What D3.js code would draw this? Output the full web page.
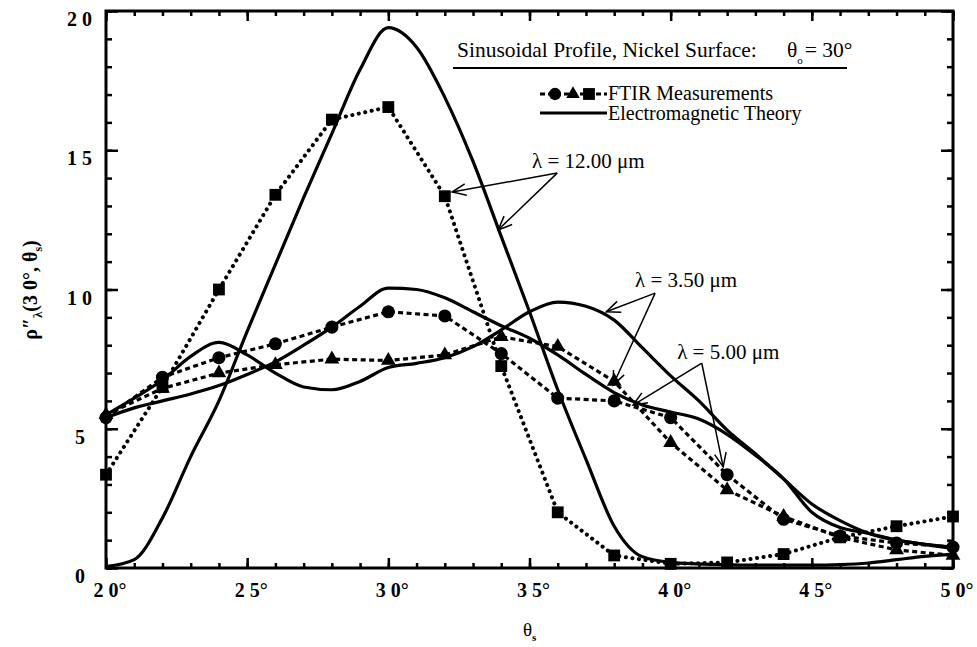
<!DOCTYPE html>
<html lang="en">
<head>
<meta charset="UTF-8">
<title>Sinusoidal Profile, Nickel Surface</title>
<style>
  body { margin: 0; background: #fff; }
  svg { display: block; font-family: 'Liberation Serif', 'Times New Roman', serif; }
  .frame { fill: none; stroke: #000; stroke-width: 3; }
  .ticks line { stroke: #000; stroke-width: 2.5; }
  .tick-label { font-weight: bold; font-size: 20px; }
  .theory { fill: none; stroke: #000; stroke-width: 3.2; }
  .meas-dash { fill: none; stroke: #000; stroke-width: 3.2; stroke-dasharray: 5, 3.5; }
  .meas-dot { fill: none; stroke: #000; stroke-width: 4; stroke-dasharray: 0.1, 6.5; stroke-linecap: round; }
  .note { font-size: 21px; }
  .legend { font-size: 20px; }
  .arrow { stroke: #000; stroke-width: 1.5; fill: none; }
</style>
</head>
<body>
<svg id="chart" width="977" height="647"></svg>
<script src="https://d3js.org/d3.v7.min.js"></script>
<script>
// measured points (FTIR), every 2 degrees
const measAngles = [20, 22, 24, 26, 28, 30, 32, 34, 36, 38, 40, 42, 44, 46, 48, 50];
const meas350 = [5.5, 6.45, 7.0, 7.3, 7.5, 7.45, 7.65, 8.3, 7.95, 6.7, 4.5, 2.8, 1.85, 1.1, 0.65, 0.45];   // triangles
const meas500 = [5.4, 6.85, 7.55, 8.05, 8.65, 9.2, 9.05, 7.7, 6.1, 6.0, 5.4, 3.35, 1.75, 1.15, 0.9, 0.75]; // circles
const meas1200 = [3.35, 6.5, 10.0, 13.4, 16.1, 16.55, 13.35, 7.25, 2.0, 0.45, 0.15, 0.2, 0.5, 1.1, 1.5, 1.85]; // squares

// electromagnetic theory, every degree
const theoryAngles = [20, 21, 22, 23, 24, 25, 26, 27, 28, 29, 30, 31, 32, 33, 34, 35,
                      36, 37, 38, 39, 40, 41, 42, 43, 44, 45, 46, 47, 48, 49, 50];
const theory350 = [5.5, 6.1, 6.75, 7.6, 8.1, 7.65, 7.0, 6.5, 6.4, 6.7, 7.2, 7.35, 7.55, 7.95, 8.55, 9.2,
                   9.55, 9.4, 8.9, 7.9, 6.9, 6.0, 4.95, 4.1, 3.2, 2.3, 1.7, 1.25, 1.0, 0.85, 0.7];
const theory500 = [5.4, 5.75, 6.0, 6.25, 6.55, 6.95, 7.4, 8.0, 8.65, 9.4, 10.05, 10.0, 9.7, 9.2, 8.7, 8.25,
                   7.65, 6.95, 6.3, 5.85, 5.6, 5.35, 4.8, 4.05, 3.2, 2.0, 1.45, 1.25, 1.0, 0.85, 0.75];
const theory1200 = [0.05, 0.3, 1.8, 4.0, 6.0, 8.5, 10.9, 13.3, 15.6, 17.9, 19.4, 18.7, 16.9, 14.6, 11.9, 9.2,
                    6.4, 3.9, 1.5, 0.4, 0.2, 0.15, 0.12, 0.1, 0.1, 0.1, 0.12, 0.18, 0.3, 0.42, 0.5];

const xMajorTicks = [20, 25, 30, 35, 40, 45, 50];
const xTickLabels = ["2 0°", "2 5°", "3 0°", "3 5°", "4 0°", "4 5°", "5 0°"];
const yMajorTicks = [0, 5, 10, 15, 20];
const yTickLabels = ["0", "5", "1 0", "1 5", "2 0"];

const svg = d3.select("#chart");
const x = d3.scaleLinear().domain([20, 50]).range([106, 953]);
const y = d3.scaleLinear().domain([0, 20]).range([568, 11]);

// theory curves
const line = d3.line().x(d => x(d[0])).y(d => y(d[1])).curve(d3.curveMonotoneX);
[theory350, theory500, theory1200].forEach(vals => {
    svg.append("path")
        .attr("class", "theory")
        .attr("d", line(theoryAngles.map((a, i) => [a, vals[i]])));
});

// measurement lines
const mline = d3.line().x(d => x(d[0])).y(d => y(d[1]));
const series = [
    { vals: meas350, cls: "meas-dash", sym: d3.symbolTriangle, size: 95 },
    { vals: meas500, cls: "meas-dash", sym: d3.symbolCircle, size: 135 },
    { vals: meas1200, cls: "meas-dot", sym: d3.symbolSquare, size: 140 }
];
series.forEach(s => {
    svg.append("path")
        .attr("class", s.cls)
        .attr("d", mline(measAngles.map((a, i) => [a, s.vals[i]])));
});
series.forEach(s => {
    svg.append("g").selectAll("path")
        .data(measAngles.map((a, i) => [a, s.vals[i]]))
        .join("path")
        .attr("d", d3.symbol(s.sym, s.size))
        .attr("transform", d => `translate(${x(d[0])},${y(d[1])})`)
        .attr("fill", "#000");
});

// frame and inward ticks
svg.append("rect").attr("class", "frame")
    .attr("x", 106).attr("y", 11).attr("width", 847).attr("height", 557);

function ticks(axis, tx, ty, values, len) {
    svg.append("g").attr("class", "ticks")
        .attr("transform", `translate(${tx},${ty})`)
        .call(axis.tickValues(values).tickSize(-len).tickFormat(""))
        .call(g => g.select(".domain").remove());
}
const xMinor = d3.range(20, 51, 1);
const yMinor = d3.range(0, 21, 1);
ticks(d3.axisBottom(x), 0, 568, xMinor, 5);
ticks(d3.axisBottom(x), 0, 568, xMajorTicks, 10);
ticks(d3.axisTop(x), 0, 11, xMinor, 5);
ticks(d3.axisTop(x), 0, 11, xMajorTicks, 10);
ticks(d3.axisLeft(y), 106, 0, yMinor, 6);
ticks(d3.axisLeft(y), 106, 0, yMajorTicks, 12);
ticks(d3.axisRight(y), 953, 0, yMinor, 6);
ticks(d3.axisRight(y), 953, 0, yMajorTicks, 12);

// tick labels
svg.append("g").selectAll("text")
    .data(xMajorTicks)
    .join("text")
    .attr("class", "tick-label")
    .attr("x", d => x(d)).attr("dx", 4).attr("y", 597)
    .attr("text-anchor", "middle")
    .text((d, i) => xTickLabels[i]);

svg.append("g").selectAll("text")
    .data(yMajorTicks)
    .join("text")
    .attr("class", "tick-label")
    .attr("x", (d, i) => yTickLabels[i].length > 1 ? 92 : 85)
    .attr("y", d => y(d) + 15)
    .attr("text-anchor", "end")
    .text((d, i) => yTickLabels[i]);

// axis titles
const yt = svg.append("text")
    .attr("transform", "translate(37,290) rotate(-90)")
    .attr("text-anchor", "middle")
    .style("font-size", "20px").style("font-weight", "bold");
yt.append("tspan").text("ρ″");
yt.append("tspan").attr("dy", 5).style("font-size", "13px").text("λ");
yt.append("tspan").attr("dy", -5).text("(3 0°, θ");
yt.append("tspan").attr("dy", 5).style("font-size", "12px").text("s");
yt.append("tspan").attr("dy", -5).text(")");

const xt = svg.append("text").attr("x", 523).attr("y", 636).style("font-size", "19px");
xt.append("tspan").text("θ");
xt.append("tspan").attr("dy", 5).style("font-size", "11px").style("font-weight", "bold").text("s");

// heading and legend
const title = svg.append("text").style("font-size", "21.5px").attr("x", 457).attr("y", 57);
title.append("tspan").text("Sinusoidal Profile, Nickel Surface:");
title.append("tspan").attr("x", 787).text("θ");
title.append("tspan").attr("dy", 7).style("font-size", "11px").text("o");
title.append("tspan").attr("dy", -7).attr("dx", 2).text("= 30°");
svg.append("line").attr("x1", 453).attr("x2", 847).attr("y1", 68).attr("y2", 68)
    .attr("stroke", "#000").attr("stroke-width", 2.2);

svg.append("line").attr("x1", 540).attr("x2", 607).attr("y1", 94).attr("y2", 94)
    .attr("stroke", "#000").attr("stroke-width", 3).attr("stroke-dasharray", "5,3");
[[555, d3.symbolCircle, 120], [573, d3.symbolTriangle, 80], [589, d3.symbolSquare, 140]].forEach(m => {
    svg.append("path").attr("d", d3.symbol(m[1], m[2]))
        .attr("transform", `translate(${m[0]},94)`);
});
svg.append("text").attr("class", "legend").attr("x", 608).attr("y", 100).text("FTIR Measurements");
svg.append("line").attr("x1", 540).attr("x2", 607).attr("y1", 113).attr("y2", 113)
    .attr("stroke", "#000").attr("stroke-width", 3);
svg.append("text").attr("class", "legend").attr("x", 608).attr("y", 120).text("Electromagnetic Theory");

// wavelength notes with arrows (in data units)
const notes = [
    { text: "λ = 12.00 μm", at: [35.09, 14.36], apex: [35.98, 14.18], tips: [[32.26, 13.5], [33.89, 12.14]] },
    { text: "λ = 3.50 μm", at: [38.74, 10.09], apex: [39.45, 9.87], tips: [[37.72, 9.2], [37.96, 6.57]] },
    { text: "λ = 5.00 μm", at: [40.23, 7.5], apex: [41.1, 7.36], tips: [[38.67, 5.85], [41.86, 3.63]] }
];
notes.forEach(n => {
    svg.append("text").attr("class", "note")
        .attr("x", x(n.at[0])).attr("y", y(n.at[1])).text(n.text);
    const ax = x(n.apex[0]), ay = y(n.apex[1]);
    n.tips.forEach(t => {
        const tx = x(t[0]), ty = y(t[1]);
        const ang = Math.atan2(ay - ty, ax - tx);
        const head = [ang - 0.4, ang + 0.4].map(a => [tx + 15 * Math.cos(a), ty + 15 * Math.sin(a)]);
        svg.append("line").attr("class", "arrow")
            .attr("x1", ax).attr("y1", ay).attr("x2", tx).attr("y2", ty);
        svg.append("path").attr("class", "arrow")
            .attr("d", `M${head[0][0]},${head[0][1]}L${tx},${ty}L${head[1][0]},${head[1][1]}`);
    });
});
</script>
</body>
</html>
